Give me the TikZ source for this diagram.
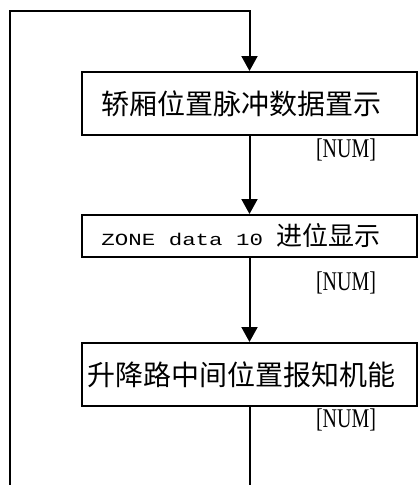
\documentclass[tikz,border=0pt]{standalone}
\usepackage{fontspec}
\newfontfamily\cjk{Noto Sans CJK SC}
\newfontfamily\ttwide{Liberation Mono}[FakeStretch=1.32]
\newfontfamily\numfont{Liberation Serif}[FakeStretch=0.74]
\usepackage{tikz}
\usetikzlibrary{arrows.meta,positioning}
\tikzset{
    stepbox/.style={draw, line width=2pt, minimum width=335pt, inner sep=0pt, font=\cjk\fontsize{28}{32}\selectfont},
    flow/.style={line width=2pt, -{Triangle[width=16pt,length=15pt]}},
    numlabel/.style={inner sep=0pt, font=\numfont\fontsize{27}{30}\selectfont}
}
\begin{document}
\begin{tikzpicture}[x=1pt,y=-1pt]
    \useasboundingbox (0,0) rectangle (418,485);

    \node[stepbox, minimum height=63pt] (pulse) at (249.5,103.5) {\hspace{-17pt}轿厢位置脉冲数据置示};
    \node[stepbox, minimum height=42pt, font=\cjk\fontsize{26}{28}\selectfont] (zone) at (249.5,236) {\hspace{-17pt}{\ttwide\fontsize{17}{20}\selectfont ZONE data 10 }进位显示};
    \node[stepbox, minimum height=63pt] (lift) at (249.5,374.5) {\hspace{-17pt}升降路中间位置报知机能};

    \node[numlabel] (num1) at (346,150) {[NUM]};
    \node[numlabel] (num2) at (346,283) {[NUM]};
    \node[numlabel] (num3) at (346,420) {[NUM]};

    \coordinate (loopBL) at (10,485);
    \coordinate (loopTL) at (10,11);
    \coordinate (loopBR) at (249.5,485);

    \draw[flow] (loopBL) -- (loopTL) -- (loopTL -| pulse.north) -- (pulse.north);
    \draw[flow] (pulse.south) -- (zone.north);
    \draw[flow] (zone.south) -- (lift.north);
    \draw[line width=2pt] (lift.south) -- (loopBR);
\end{tikzpicture}
\end{document}
